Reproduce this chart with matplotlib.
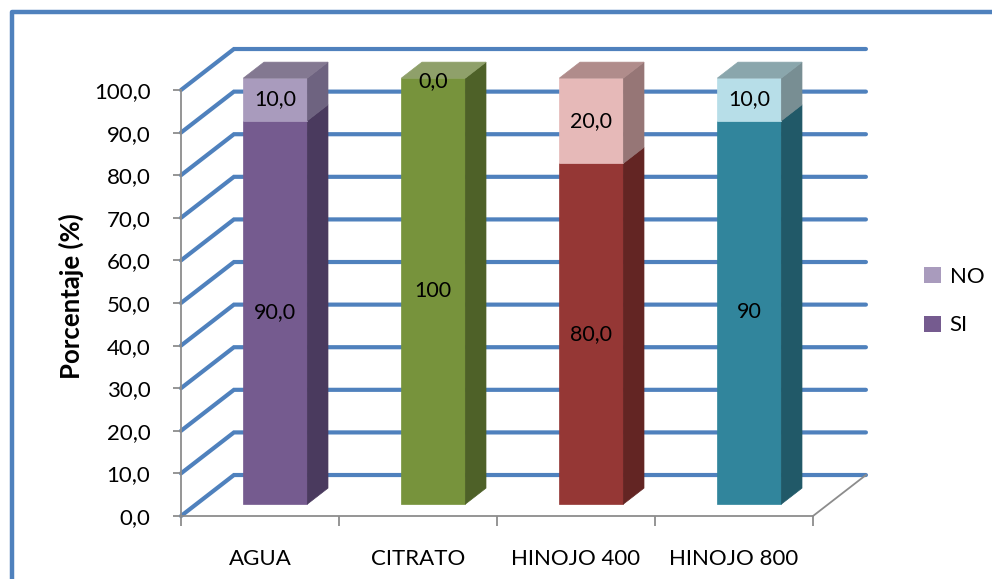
import matplotlib
matplotlib.use("Agg")
import matplotlib.pyplot as plt
from matplotlib.patches import Polygon, Patch
from matplotlib.lines import Line2D

# ---- data -------------------------------------------------------------
categories = ["AGUA", "CITRATO", "HINOJO 400", "HINOJO 800"]
si_values = [90.0, 100.0, 80.0, 90.0]
no_values = [10.0, 0.0, 20.0, 10.0]
si_labels = ["90,0", "100", "80,0", "90"]
no_labels = ["10,0", "0,0", "20,0", "10,0"]
series_names = ["SI", "NO"]
y_ticks = [0, 10, 20, 30, 40, 50, 60, 70, 80, 90, 100]

# ---- styling ----------------------------------------------------------
FONT = "Lato"
GRID_BLUE = "#4F81BD"
AXIS_GRAY = "#8C8C8C"
# (front, side, top) colours per category
si_colors = [("#755B8F", "#4A3A5E", "#8A7A9E"),
             ("#77933C", "#4E6128", "#8FA06A"),
             ("#953735", "#632523", "#A86A68"),
             ("#31859C", "#215968", "#5E9AAA")]
no_colors = [("#A99BBD", "#6E6380", "#837891"),
             ("#C3D69B", "#7E8C62", "#9AA97A"),
             ("#E6B9B8", "#967676", "#B08C8B"),
             ("#B7DEE8", "#788E93", "#8AA6AC")]
legend_colors = {"SI": "#755B8F", "NO": "#A99BBD"}

# depth projection in data units (category units, percentage units)
DX, DY = 0.335, 9.62
BAR_W = 0.405
D_FRONT, D_BACK = 0.29, 0.68


def proj(x, y, d):
    return (x + d * DX, y + d * DY)


W, H = 992, 579
fig = plt.figure(figsize=(W / 100, H / 100), dpi=100)
ax = fig.add_axes([181 / W, (H - 516) / H, 632 / W, 426 / H])
ax.set_xlim(0, len(categories))
ax.set_ylim(0, 100)
ax.patch.set_visible(False)
for s in ("top", "right"):
    ax.spines[s].set_visible(False)
for s in ("left", "bottom"):
    ax.spines[s].set_color(AXIS_GRAY)
    ax.spines[s].set_linewidth(1.3)
    ax.spines[s].set_zorder(5)

# back wall / floor gridlines
n = len(categories)
for v in y_ticks:
    pts = [proj(0, v, 0), proj(0, v, 1), proj(n, v, 1)]
    xs, ys = zip(*pts)
    ax.add_line(Line2D(xs, ys, color=GRID_BLUE, lw=3.0, solid_capstyle="round",
                       solid_joinstyle="miter", clip_on=False, zorder=1))
# right edge of the floor
fx, fy = zip(proj(n, 0, 0), proj(n, 0, 1))
ax.add_line(Line2D(fx, fy, color=AXIS_GRAY, lw=1.3, clip_on=False, zorder=1))


def add_poly(pts, color, z):
    ax.add_patch(Polygon(pts, closed=True, facecolor=color, edgecolor=color,
                         lw=0.5, clip_on=False, zorder=z))


# stacked 3D-style columns
for i, cat in enumerate(categories):
    x0 = i + 0.5 - BAR_W / 2
    x1 = i + 0.5 + BAR_W / 2
    segs = [(0.0, si_values[i], si_colors[i], si_labels[i]),
            (si_values[i], si_values[i] + no_values[i], no_colors[i], no_labels[i])]
    top_val = si_values[i] + no_values[i]
    top_color = no_colors[i][2] if no_values[i] > 0 else si_colors[i][2]
    for lo, hi, (front, side, _), lab in segs:
        if hi > lo:
            add_poly([proj(x0, lo, D_FRONT), proj(x1, lo, D_FRONT),
                      proj(x1, hi, D_FRONT), proj(x0, hi, D_FRONT)], front, 3)
            add_poly([proj(x1, lo, D_FRONT), proj(x1, lo, D_BACK),
                      proj(x1, hi, D_BACK), proj(x1, hi, D_FRONT)], side, 3)
    add_poly([proj(x0, top_val, D_FRONT), proj(x1, top_val, D_FRONT),
              proj(x1, top_val, D_BACK), proj(x0, top_val, D_BACK)], top_color, 3)
    for lo, hi, _, lab in segs:
        cx, cy = proj(i + 0.5, (lo + hi) / 2, D_FRONT)
        if hi == lo:
            cy -= 0.8
        ax.text(cx, cy, lab, ha="center", va="center", fontsize=15.5,
                family=FONT, color="black", zorder=6, clip_on=False)

# axes ticks and labels
ax.set_yticks(y_ticks)
ax.set_yticklabels([f"{v:.1f}".replace(".", ",") for v in y_ticks],
                   family=FONT, fontsize=16)
ax.tick_params(axis="y", length=6, width=1.3, color=AXIS_GRAY, pad=16)
ax.set_xticks(range(n + 1))
ax.set_xticklabels([])
ax.set_xticks([i + 0.5 for i in range(n)], minor=True)
ax.set_xticklabels(categories, minor=True, family=FONT, fontsize=16)
ax.tick_params(axis="x", which="major", length=7, width=1.3, color=AXIS_GRAY)
ax.tick_params(axis="x", which="minor", length=0, pad=24)

ax.set_ylabel("Porcentaje (%)", family=FONT, fontweight="bold", fontsize=18.5)
ax.yaxis.set_label_coords((84 - 181) / 632, (516 - 296) / 426)

# legend
handles = [Patch(facecolor=legend_colors[s], edgecolor="none") for s in ("NO", "SI")]
fig.legend(handles, ["NO", "SI"], loc="center left",
           bbox_to_anchor=(904 / W, 1 - 301 / H), frameon=False,
           prop={"family": FONT, "size": 16}, handlelength=0.75,
           handleheight=0.75, handletextpad=0.4, labelspacing=1.3)

# outer frame (left and top edges)
fig.add_artist(Line2D([12 / W, 12 / W, 1.0], [0.0, 1 - 12 / H, 1 - 12 / H],
                      transform=fig.transFigure, color=GRID_BLUE, lw=3.2))

fig.savefig("out.png", dpi=100)
